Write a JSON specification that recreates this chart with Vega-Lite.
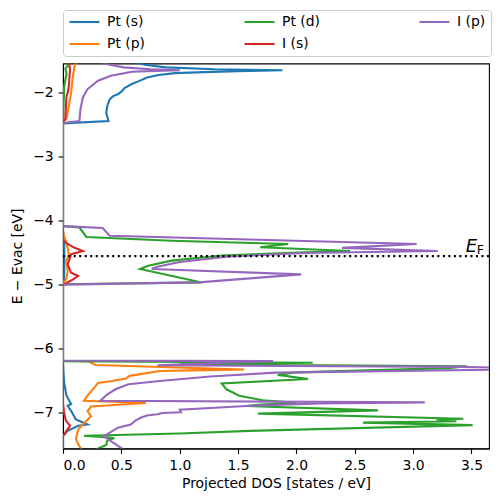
{
  "$schema": "https://vega.github.io/schema/vega-lite/v6.json",
  "width": 426,
  "height": 385,
  "autosize": {"type": "none"},
  "padding": {"left": 63, "top": 63.5, "right": 9, "bottom": 53.5},
  "background": "white",
  "config": {
    "view": {"stroke": "black", "strokeWidth": 1.1},
    "font": "DejaVu Sans",
    "axis": {
      "labelFont": "DejaVu Sans", "labelFontSize": 13.9, "labelColor": "black",
      "titleFont": "DejaVu Sans", "titleFontSize": 13.9, "titleFontWeight": "normal", "titleColor": "black",
      "tickColor": "black", "tickSize": 4.9, "tickWidth": 1.1,
      "domainColor": "black", "domainWidth": 1.1, "labelPadding": 4.9,
      "grid": false, "zindex": 1
    }
  },
  "datasets": {
    "dos": [
      {"s": "Pt (s)", "E": -1.50, "d": 0.58},
      {"s": "Pt (s)", "E": -1.56, "d": 0.70},
      {"s": "Pt (s)", "E": -1.60, "d": 0.88},
      {"s": "Pt (s)", "E": -1.63, "d": 1.30},
      {"s": "Pt (s)", "E": -1.645, "d": 1.88},
      {"s": "Pt (s)", "E": -1.66, "d": 1.50},
      {"s": "Pt (s)", "E": -1.675, "d": 1.21},
      {"s": "Pt (s)", "E": -1.69, "d": 0.96},
      {"s": "Pt (s)", "E": -1.72, "d": 0.82},
      {"s": "Pt (s)", "E": -1.76, "d": 0.72},
      {"s": "Pt (s)", "E": -1.80, "d": 0.67},
      {"s": "Pt (s)", "E": -1.86, "d": 0.59},
      {"s": "Pt (s)", "E": -1.92, "d": 0.53},
      {"s": "Pt (s)", "E": -1.98, "d": 0.50},
      {"s": "Pt (s)", "E": -2.02, "d": 0.47},
      {"s": "Pt (s)", "E": -2.05, "d": 0.43},
      {"s": "Pt (s)", "E": -2.10, "d": 0.40},
      {"s": "Pt (s)", "E": -2.20, "d": 0.38},
      {"s": "Pt (s)", "E": -2.31, "d": 0.37},
      {"s": "Pt (s)", "E": -2.44, "d": 0.39},
      {"s": "Pt (s)", "E": -2.475, "d": 0},
      {"s": "Pt (s)", "E": -4.15, "d": 0},
      {"s": "Pt (s)", "E": -4.30, "d": 0.01},
      {"s": "Pt (s)", "E": -4.60, "d": 0.012},
      {"s": "Pt (s)", "E": -4.90, "d": 0.01},
      {"s": "Pt (s)", "E": -5.00, "d": 0},
      {"s": "Pt (s)", "E": -6.21, "d": 0},
      {"s": "Pt (s)", "E": -6.40, "d": 0.005},
      {"s": "Pt (s)", "E": -6.53, "d": 0.01},
      {"s": "Pt (s)", "E": -6.73, "d": 0.03},
      {"s": "Pt (s)", "E": -6.86, "d": 0.07},
      {"s": "Pt (s)", "E": -6.89, "d": 0.04},
      {"s": "Pt (s)", "E": -6.97, "d": 0.07},
      {"s": "Pt (s)", "E": -7.10, "d": 0.11},
      {"s": "Pt (s)", "E": -7.18, "d": 0.21},
      {"s": "Pt (s)", "E": -7.20, "d": 0.13},
      {"s": "Pt (s)", "E": -7.28, "d": 0.04},
      {"s": "Pt (s)", "E": -7.36, "d": 0},
      {"s": "Pt (s)", "E": -7.62, "d": 0},

      {"s": "Pt (p)", "E": -1.50, "d": 0.12},
      {"s": "Pt (p)", "E": -1.57, "d": 0.10},
      {"s": "Pt (p)", "E": -1.80, "d": 0.08},
      {"s": "Pt (p)", "E": -2.00, "d": 0.07},
      {"s": "Pt (p)", "E": -2.20, "d": 0.05},
      {"s": "Pt (p)", "E": -2.40, "d": 0.03},
      {"s": "Pt (p)", "E": -2.46, "d": 0},
      {"s": "Pt (p)", "E": -4.18, "d": 0},
      {"s": "Pt (p)", "E": -4.30, "d": 0.02},
      {"s": "Pt (p)", "E": -4.42, "d": 0.04},
      {"s": "Pt (p)", "E": -4.52, "d": 0.05},
      {"s": "Pt (p)", "E": -4.62, "d": 0.03},
      {"s": "Pt (p)", "E": -4.78, "d": 0.04},
      {"s": "Pt (p)", "E": -4.90, "d": 0.03},
      {"s": "Pt (p)", "E": -4.99, "d": 0},
      {"s": "Pt (p)", "E": -6.185, "d": 0},
      {"s": "Pt (p)", "E": -6.195, "d": 0.22},
      {"s": "Pt (p)", "E": -6.25, "d": 0.28},
      {"s": "Pt (p)", "E": -6.32, "d": 1.55},
      {"s": "Pt (p)", "E": -6.335, "d": 1.10},
      {"s": "Pt (p)", "E": -6.345, "d": 0.83},
      {"s": "Pt (p)", "E": -6.42, "d": 0.57},
      {"s": "Pt (p)", "E": -6.46, "d": 0.54},
      {"s": "Pt (p)", "E": -6.50, "d": 0.42},
      {"s": "Pt (p)", "E": -6.53, "d": 0.30},
      {"s": "Pt (p)", "E": -6.60, "d": 0.27},
      {"s": "Pt (p)", "E": -6.73, "d": 0.21},
      {"s": "Pt (p)", "E": -6.81, "d": 0.18},
      {"s": "Pt (p)", "E": -6.845, "d": 0.71},
      {"s": "Pt (p)", "E": -6.90, "d": 0.24},
      {"s": "Pt (p)", "E": -6.97, "d": 0.21},
      {"s": "Pt (p)", "E": -7.05, "d": 0.24},
      {"s": "Pt (p)", "E": -7.18, "d": 0.17},
      {"s": "Pt (p)", "E": -7.26, "d": 0.13},
      {"s": "Pt (p)", "E": -7.41, "d": 0.11},
      {"s": "Pt (p)", "E": -7.52, "d": 0.14},
      {"s": "Pt (p)", "E": -7.62, "d": 0.18},

      {"s": "Pt (d)", "E": -1.50, "d": 0.03},
      {"s": "Pt (d)", "E": -1.58, "d": 0.04},
      {"s": "Pt (d)", "E": -1.62, "d": 0.02},
      {"s": "Pt (d)", "E": -1.70, "d": 0.03},
      {"s": "Pt (d)", "E": -1.90, "d": 0.01},
      {"s": "Pt (d)", "E": -2.45, "d": 0},
      {"s": "Pt (d)", "E": -4.08, "d": 0},
      {"s": "Pt (d)", "E": -4.10, "d": 0.14},
      {"s": "Pt (d)", "E": -4.25, "d": 0.20},
      {"s": "Pt (d)", "E": -4.31, "d": 0.93},
      {"s": "Pt (d)", "E": -4.36, "d": 1.93},
      {"s": "Pt (d)", "E": -4.41, "d": 1.69},
      {"s": "Pt (d)", "E": -4.47, "d": 2.46},
      {"s": "Pt (d)", "E": -4.49, "d": 2.07},
      {"s": "Pt (d)", "E": -4.54, "d": 1.36},
      {"s": "Pt (d)", "E": -4.62, "d": 0.93},
      {"s": "Pt (d)", "E": -4.70, "d": 0.73},
      {"s": "Pt (d)", "E": -4.75, "d": 0.66},
      {"s": "Pt (d)", "E": -4.96, "d": 1.19},
      {"s": "Pt (d)", "E": -4.99, "d": 0},
      {"s": "Pt (d)", "E": -6.19, "d": 0},
      {"s": "Pt (d)", "E": -6.215, "d": 2.14},
      {"s": "Pt (d)", "E": -6.24, "d": 1.00},
      {"s": "Pt (d)", "E": -6.27, "d": 3.46},
      {"s": "Pt (d)", "E": -6.30, "d": 3.30},
      {"s": "Pt (d)", "E": -6.365, "d": 2.00},
      {"s": "Pt (d)", "E": -6.405, "d": 1.84},
      {"s": "Pt (d)", "E": -6.47, "d": 2.10},
      {"s": "Pt (d)", "E": -6.54, "d": 1.36},
      {"s": "Pt (d)", "E": -6.63, "d": 1.40},
      {"s": "Pt (d)", "E": -6.73, "d": 1.51},
      {"s": "Pt (d)", "E": -6.80, "d": 1.71},
      {"s": "Pt (d)", "E": -6.84, "d": 2.00},
      {"s": "Pt (d)", "E": -6.87, "d": 1.70},
      {"s": "Pt (d)", "E": -6.89, "d": 1.57},
      {"s": "Pt (d)", "E": -6.96, "d": 2.70},
      {"s": "Pt (d)", "E": -7.01, "d": 1.67},
      {"s": "Pt (d)", "E": -7.09, "d": 3.43},
      {"s": "Pt (d)", "E": -7.10, "d": 3.20},
      {"s": "Pt (d)", "E": -7.13, "d": 3.37},
      {"s": "Pt (d)", "E": -7.15, "d": 2.57},
      {"s": "Pt (d)", "E": -7.19, "d": 3.51},
      {"s": "Pt (d)", "E": -7.28, "d": 1.60},
      {"s": "Pt (d)", "E": -7.32, "d": 1.00},
      {"s": "Pt (d)", "E": -7.355, "d": 0.18},
      {"s": "Pt (d)", "E": -7.39, "d": 0.44},
      {"s": "Pt (d)", "E": -7.43, "d": 0.38},
      {"s": "Pt (d)", "E": -7.50, "d": 0.37},
      {"s": "Pt (d)", "E": -7.62, "d": 0.22},

      {"s": "I (s)", "E": -1.50, "d": 0.05},
      {"s": "I (s)", "E": -1.63, "d": 0.06},
      {"s": "I (s)", "E": -1.90, "d": 0.05},
      {"s": "I (s)", "E": -2.00, "d": 0.04},
      {"s": "I (s)", "E": -2.05, "d": 0.03},
      {"s": "I (s)", "E": -2.40, "d": 0.02},
      {"s": "I (s)", "E": -2.45, "d": 0},
      {"s": "I (s)", "E": -4.30, "d": 0},
      {"s": "I (s)", "E": -4.36, "d": 0.04},
      {"s": "I (s)", "E": -4.42, "d": 0.10},
      {"s": "I (s)", "E": -4.47, "d": 0.17},
      {"s": "I (s)", "E": -4.52, "d": 0.07},
      {"s": "I (s)", "E": -4.68, "d": 0.04},
      {"s": "I (s)", "E": -4.81, "d": 0.07},
      {"s": "I (s)", "E": -4.86, "d": 0.13},
      {"s": "I (s)", "E": -4.91, "d": 0.09},
      {"s": "I (s)", "E": -5.00, "d": 0},
      {"s": "I (s)", "E": -6.85, "d": 0},
      {"s": "I (s)", "E": -7.00, "d": 0.01},
      {"s": "I (s)", "E": -7.12, "d": 0.025},
      {"s": "I (s)", "E": -7.20, "d": 0.06},
      {"s": "I (s)", "E": -7.28, "d": 0.03},
      {"s": "I (s)", "E": -7.36, "d": 0},
      {"s": "I (s)", "E": -7.62, "d": 0},

      {"s": "I (p)", "E": -1.50, "d": 0.30},
      {"s": "I (p)", "E": -1.56, "d": 0.40},
      {"s": "I (p)", "E": -1.60, "d": 0.52},
      {"s": "I (p)", "E": -1.63, "d": 0.75},
      {"s": "I (p)", "E": -1.645, "d": 1.00},
      {"s": "I (p)", "E": -1.655, "d": 0.79},
      {"s": "I (p)", "E": -1.67, "d": 0.59},
      {"s": "I (p)", "E": -1.73, "d": 0.41},
      {"s": "I (p)", "E": -1.81, "d": 0.30},
      {"s": "I (p)", "E": -1.94, "d": 0.21},
      {"s": "I (p)", "E": -2.07, "d": 0.17},
      {"s": "I (p)", "E": -2.25, "d": 0.15},
      {"s": "I (p)", "E": -2.44, "d": 0.14},
      {"s": "I (p)", "E": -2.47, "d": 0},
      {"s": "I (p)", "E": -4.08, "d": 0},
      {"s": "I (p)", "E": -4.11, "d": 0.34},
      {"s": "I (p)", "E": -4.23, "d": 0.40},
      {"s": "I (p)", "E": -4.36, "d": 3.03},
      {"s": "I (p)", "E": -4.42, "d": 2.39},
      {"s": "I (p)", "E": -4.47, "d": 3.21},
      {"s": "I (p)", "E": -4.50, "d": 2.07},
      {"s": "I (p)", "E": -4.56, "d": 1.40},
      {"s": "I (p)", "E": -4.64, "d": 1.00},
      {"s": "I (p)", "E": -4.72, "d": 0.80},
      {"s": "I (p)", "E": -4.75, "d": 0.76},
      {"s": "I (p)", "E": -4.835, "d": 2.04},
      {"s": "I (p)", "E": -4.96, "d": 1.16},
      {"s": "I (p)", "E": -4.995, "d": 0},
      {"s": "I (p)", "E": -6.18, "d": 0},
      {"s": "I (p)", "E": -6.19, "d": 1.80},
      {"s": "I (p)", "E": -6.255, "d": 0.81},
      {"s": "I (p)", "E": -6.28, "d": 3.40},
      {"s": "I (p)", "E": -6.30, "d": 4.00},
      {"s": "I (p)", "E": -6.32, "d": 3.80},
      {"s": "I (p)", "E": -6.37, "d": 1.82},
      {"s": "I (p)", "E": -6.43, "d": 1.26},
      {"s": "I (p)", "E": -6.50, "d": 0.83},
      {"s": "I (p)", "E": -6.55, "d": 0.56},
      {"s": "I (p)", "E": -6.63, "d": 0.45},
      {"s": "I (p)", "E": -6.71, "d": 0.38},
      {"s": "I (p)", "E": -6.81, "d": 0.32},
      {"s": "I (p)", "E": -6.835, "d": 3.10},
      {"s": "I (p)", "E": -6.85, "d": 2.20},
      {"s": "I (p)", "E": -6.89, "d": 1.57},
      {"s": "I (p)", "E": -6.95, "d": 1.00},
      {"s": "I (p)", "E": -6.99, "d": 1.01},
      {"s": "I (p)", "E": -7.00, "d": 0.85},
      {"s": "I (p)", "E": -7.02, "d": 0.81},
      {"s": "I (p)", "E": -7.04, "d": 0.72},
      {"s": "I (p)", "E": -7.07, "d": 0.67},
      {"s": "I (p)", "E": -7.12, "d": 0.62},
      {"s": "I (p)", "E": -7.18, "d": 0.58},
      {"s": "I (p)", "E": -7.23, "d": 0.47},
      {"s": "I (p)", "E": -7.33, "d": 0.38},
      {"s": "I (p)", "E": -7.36, "d": 0.35},
      {"s": "I (p)", "E": -7.44, "d": 0.41},
      {"s": "I (p)", "E": -7.56, "d": 0.51},
      {"s": "I (p)", "E": -7.62, "d": 0.55}
    ]
  },
  "layer": [
    {
      "data": {"name": "dos"},
      "encoding": {
        "x": {"field": "d", "type": "quantitative",
              "scale": {"domain": [0, 3.65], "nice": false, "zero": false},
              "axis": {"title": "Projected DOS [states / eV]", "values": [0, 0.5, 1, 1.5, 2, 2.5, 3, 3.5], "format": ".1f", "titlePadding": 4}},
        "y": {"field": "E", "type": "quantitative",
              "scale": {"domain": [-7.555, -1.54], "nice": false, "zero": false},
              "axis": {"title": "E − Evac [eV]", "values": [-7, -6, -5, -4, -3, -2], "format": "d", "titlePadding": 8}},
        "color": {"field": "s", "type": "nominal",
                  "scale": {"domain": ["Pt (s)", "Pt (p)", "Pt (d)", "I (s)", "I (p)"],
                            "range": ["#1f77b4", "#ff7f0e", "#2ca02c", "#d62728", "#9467bd"]},
                  "legend": {"orient": "none", "legendX": 0, "legendY": -53.5, "columns": 3, "title": null,
                             "symbolType": "stroke", "symbolSize": 900, "symbolStrokeWidth": 2.1,
                             "labelFont": "DejaVu Sans", "labelFontSize": 13.9, "labelColor": "black",
                             "labelOffset": 6, "columnPadding": 98, "rowPadding": 8, "padding": 5,
                             "strokeColor": "#cccccc", "fillColor": "white", "cornerRadius": 3, "clipHeight": 14}},
        "order": {"field": "E", "type": "quantitative"}
      },
      "layer": [
        {"transform": [{"filter": "datum.s === 'Pt (s)'"}], "mark": {"type": "line", "strokeWidth": 2.1, "clip": true}},
        {"transform": [{"filter": "datum.s === 'Pt (p)'"}], "mark": {"type": "line", "strokeWidth": 2.1, "clip": true}},
        {"transform": [{"filter": "datum.s === 'Pt (d)'"}], "mark": {"type": "line", "strokeWidth": 2.1, "clip": true}},
        {"transform": [{"filter": "datum.s === 'I (s)'"}], "mark": {"type": "line", "strokeWidth": 2.1, "clip": true}},
        {"transform": [{"filter": "datum.s === 'I (p)'"}], "mark": {"type": "line", "strokeWidth": 2.1, "clip": true}}
      ]
    },
    {
      "data": {"values": [{}]},
      "mark": {"type": "rule", "color": "black", "strokeWidth": 2.08, "strokeDash": [2.08, 3.43]},
      "encoding": {"y": {"datum": -4.55}}
    },
    {
      "data": {"values": [{}]},
      "mark": {"type": "text", "text": "E", "fontStyle": "italic", "fontSize": 18, "align": "left", "baseline": "alphabetic", "color": "black"},
      "encoding": {"x": {"datum": 3.45}, "y": {"datum": -4.49}}
    },
    {
      "data": {"values": [{}]},
      "mark": {"type": "text", "text": "F", "fontSize": 12.5, "align": "left", "baseline": "alphabetic", "color": "black"},
      "encoding": {"x": {"datum": 3.545}, "y": {"datum": -4.515}}
    }
  ]
}
